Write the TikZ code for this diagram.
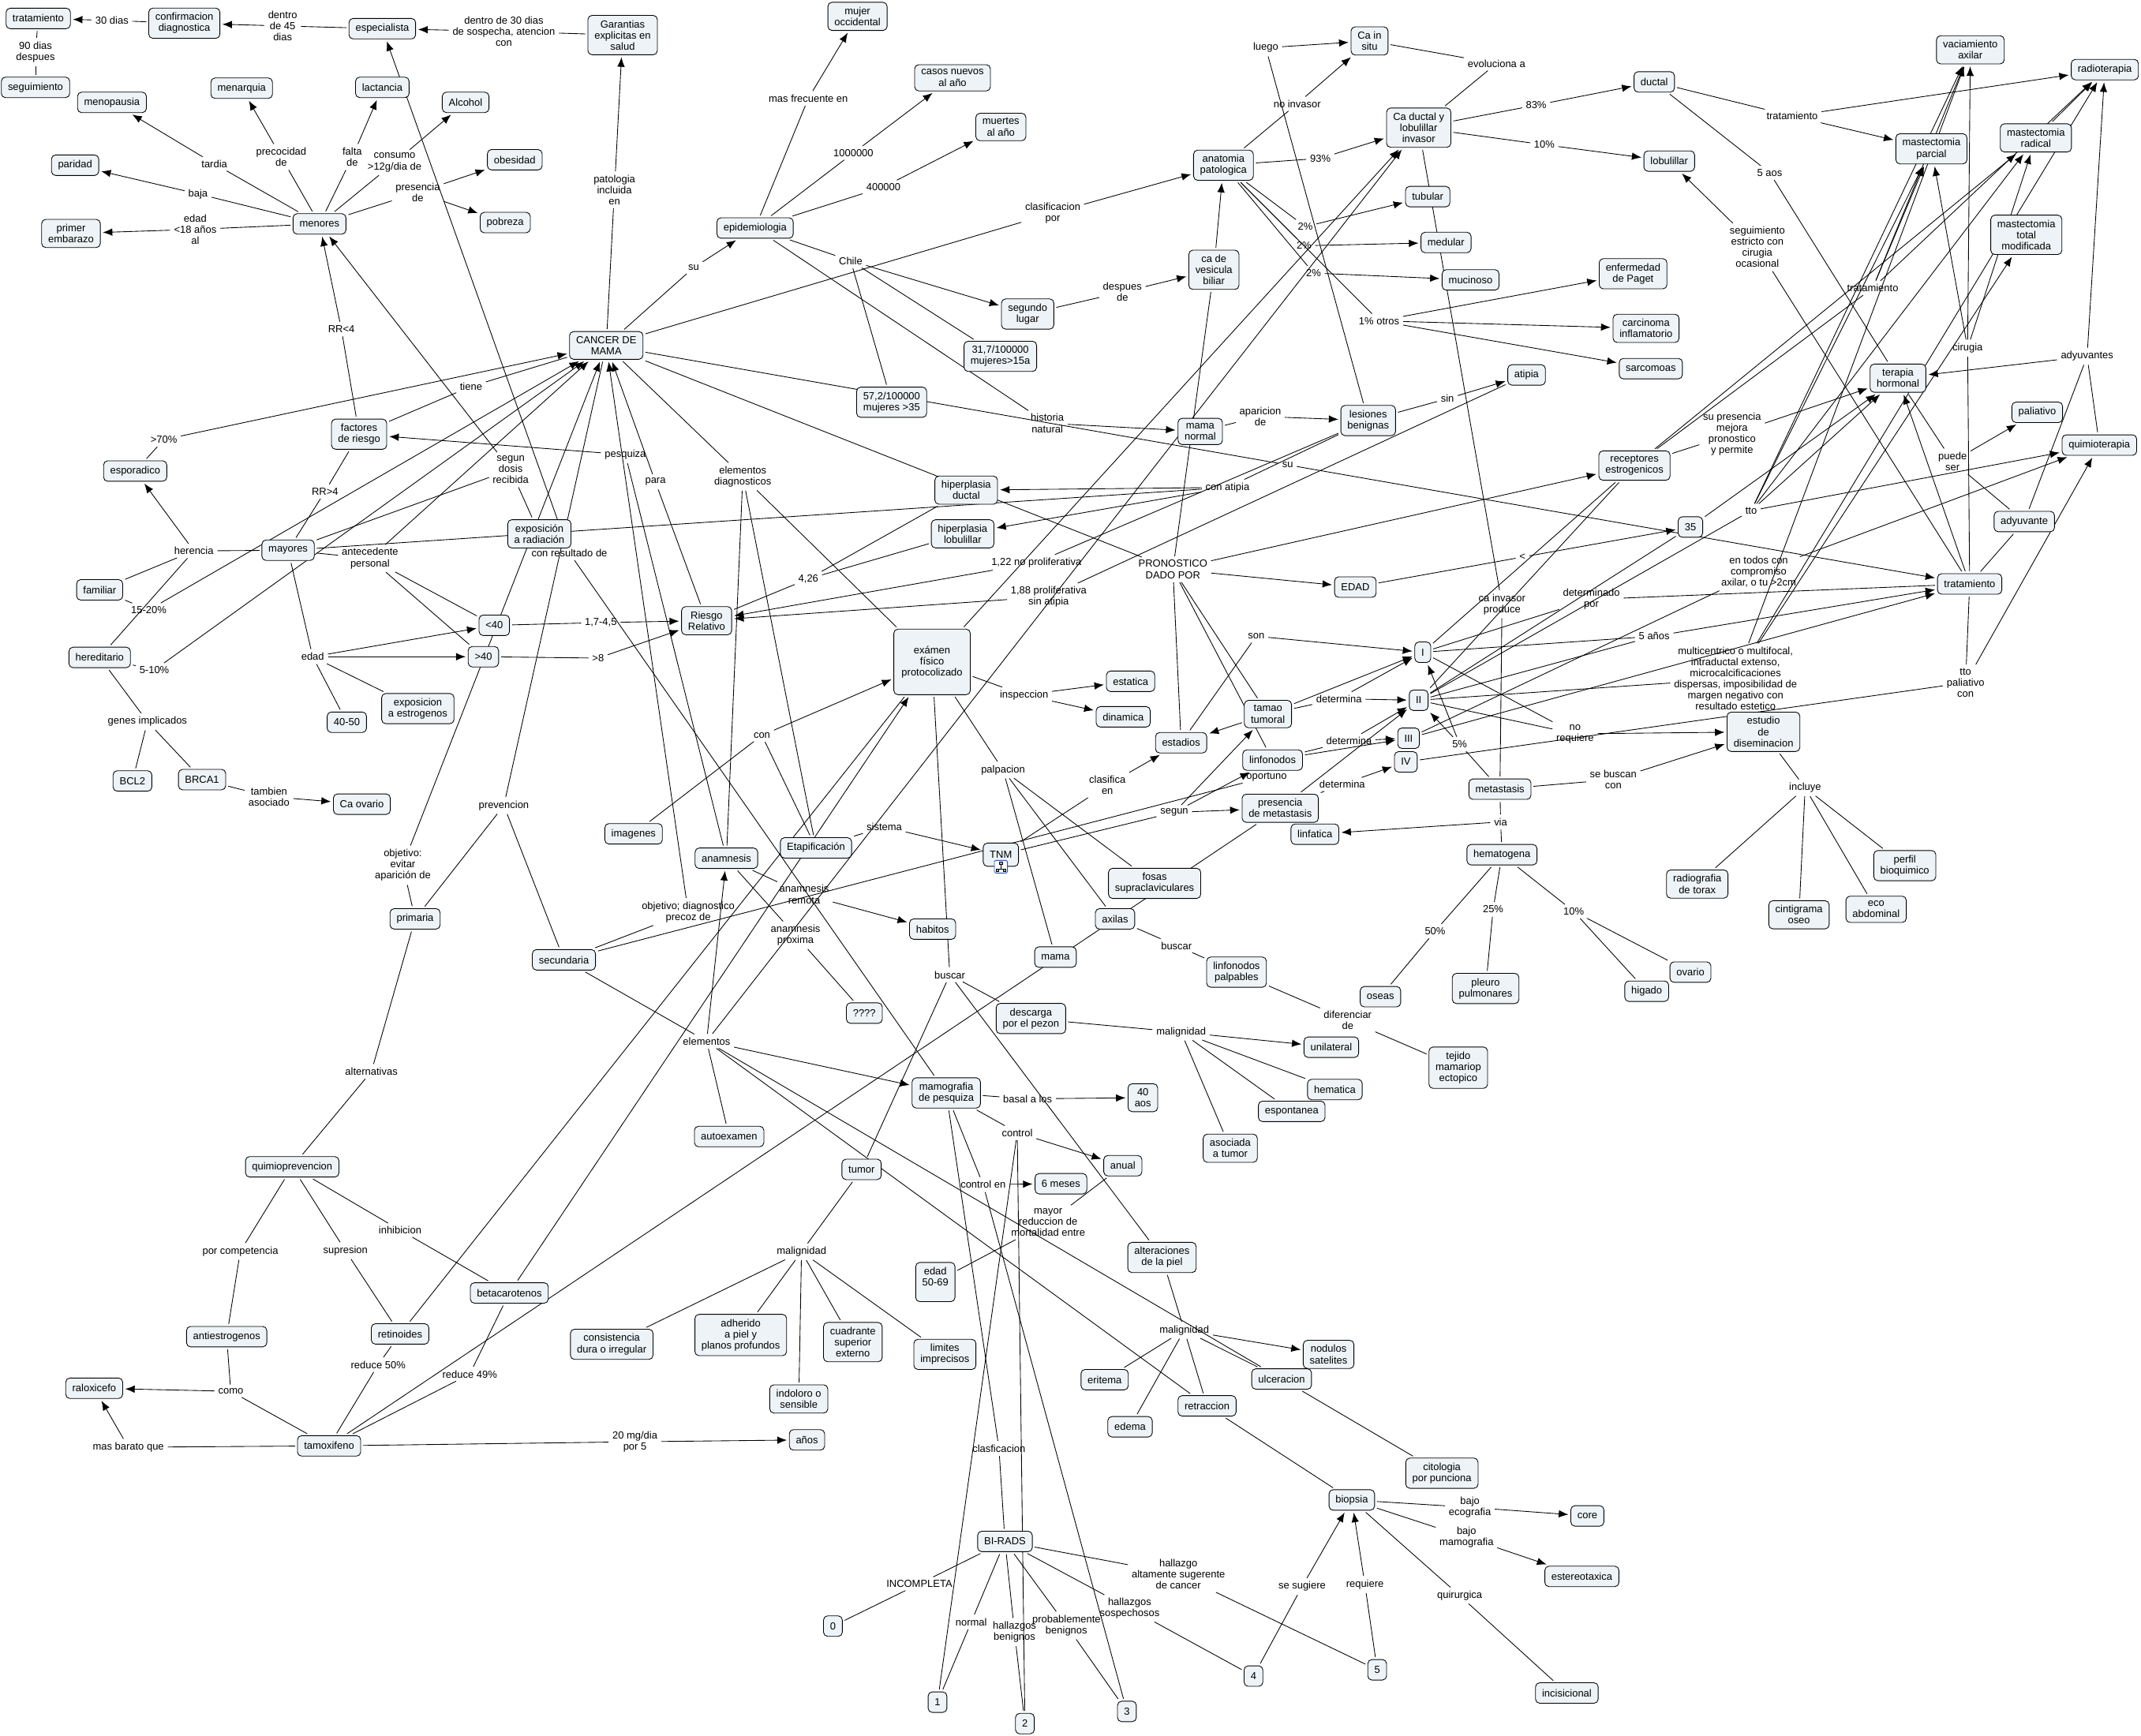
\documentclass[tikz,border=0pt]{standalone}
\usepackage{fontspec}
\setmainfont{Liberation Sans}
\definecolor{conceptfill}{RGB}{237, 243, 246}
\definecolor{iconblue}{RGB}{40, 90, 170}
\usetikzlibrary{arrows.meta, backgrounds}
\tikzset{
  every node/.style={font=\fontsize{7.5}{8.15}\selectfont},
  concept/.style={draw=black, fill=conceptfill, rounded corners=3pt, line width=0.5pt, align=center, inner xsep=4.8pt, inner ysep=3.5pt, minimum height=15pt, outer sep=1pt},
  phrase/.style={align=center, inner sep=1pt, outer sep=1pt},
  joinline/.style={line width=0.5pt, shorten <=0.8pt, shorten >=0.8pt},
  joinarrow/.style={joinline, -{Latex[length=7pt, width=5.5pt]}}
}

\begin{document}
\begin{tikzpicture}[x=1pt, y=-1pt]
  \useasboundingbox (0,0) rectangle (1568,1271);

  % Upper left concepts
  \node[concept] (tratam) at (28,13.5) {tratamiento};
  \node[concept] (confirm) at (135,17) {confirmacion\\diagnostica};
  \node[concept] (especial) at (280,21) {especialista};
  \node[concept] (garantias) at (456,25.7) {Garantias\\explicitas en\\salud};
  \node[concept] (seguim) at (26,64) {seguimiento};
  \node[concept] (menopausia) at (82,75) {menopausia};
  \node[concept] (menarquia) at (177,64.6) {menarquia};
  \node[concept] (lactancia) at (280,64) {lactancia};
  \node[concept] (alcohol) at (341,75) {Alcohol};
  \node[concept] (paridad) at (55,121) {paridad};
  \node[concept] (obesidad) at (377,117) {obesidad};
  \node[concept] (menores) at (234,164) {menores};
  \node[concept] (pobreza) at (370,163) {pobreza};
  \node[concept] (primer) at (52,171) {primer\\embarazo};
  \node[concept] (cancer) at (444,253) {CANCER DE\\MAMA};
  \node[concept] (factores) at (263,318) {factores\\de riesgo};
  \node[concept] (esporadico) at (99,345) {esporadico};
  \node[concept] (exposrad) at (395,391) {exposición\\a radiación};
  \node[concept] (mayores) at (211,403) {mayores};

  % Left column concepts
  \node[concept] (familiar) at (73,432) {familiar};
  \node[concept] (hereditario) at (73,481.5) {hereditario};
  \node[concept] (menos40) at (362,458) {<40};
  \node[concept] (mas40) at (354,481) {>40};
  \node[concept] (riesgo) at (517.5,454.6) {Riesgo\\Relativo};
  \node[concept] (exposestro) at (306,519) {exposicion\\a estrogenos};
  \node[concept] (edad4050) at (254,529) {40-50};
  \node[concept] (bcl2) at (97,572) {BCL2};
  \node[concept] (brca1) at (148,571) {BRCA1};
  \node[concept] (caovario) at (265,589) {Ca ovario};
  \node[concept] (imagenes) at (464,610.7) {imagenes};
  \node[concept] (primaria) at (304,673) {primaria};
  \node[concept] (secundaria) at (413,703) {secundaria};
  \node[concept] (quimioprev) at (214,854.6) {quimioprevencion};
  \node[concept] (antiestro) at (166,979) {antiestrogenos};
  \node[concept] (retinoides) at (293,977) {retinoides};
  \node[concept] (betacar) at (373,947) {betacarotenos};
  \node[concept] (raloxicefo) at (69,1016.8) {raloxicefo};
  \node[concept] (tamoxifeno) at (241,1059) {tamoxifeno};
  \node[concept] (consistencia) at (448,984.6) {consistencia\\dura o irregular};

  % Epidemiology and pathology concepts
  \node[concept] (mujer) at (628,12) {mujer\\occidental};
  \node[concept] (casos) at (697.6,57) {casos nuevos\\al año};
  \node[concept] (muertes) at (733,93) {muertes\\al año};
  \node[concept] (epidem) at (553,167) {epidemiologia};
  \node[concept] (anatomia) at (896,121) {anatomia\\patologica};
  \node[concept] (vesicula) at (889,197.6) {ca de\\vesicula\\biliar};
  \node[concept] (segundo) at (752.6,230) {segundo\\lugar};
  \node[concept] (tasa31) at (732.6,261) {31,7/100000\\mujeres>15a};
  \node[concept] (tasa57) at (653,294.6) {57,2/100000\\mujeres >35};
  \node[concept] (mamanormal) at (879,316) {mama\\normal};
  \node[concept] (lesiones) at (1002,308) {lesiones\\benignas};
  \node[concept] (hipducta) at (707.6,359) {hiperplasia\\ductal};
  \node[concept] (hiplob) at (705,391) {hiperplasia\\lobulillar};
  \node[concept] (cainsitu) at (1003,30) {Ca in\\situ};
  \node[concept] (caductal) at (1039,93.5) {Ca ductal y\\lobulillar\\invasor};
  \node[concept] (ductal) at (1211.5,60) {ductal};
  \node[concept] (lobulillar) at (1222.5,118) {lobulillar};
  \node[concept] (tubular) at (1045.6,144) {tubular};
  \node[concept] (medular) at (1059,177.6) {medular};
  \node[concept] (mucinoso) at (1077,205) {mucinoso};
  \node[concept] (paget) at (1196,200.5) {enfermedad\\de Paget};
  \node[concept] (inflam) at (1205.5,240.5) {carcinoma\\inflamatorio};
  \node[concept] (sarcomas) at (1209,270) {sarcomoas};
  \node[concept] (atipia) at (1118,274.6) {atipia};

  % Treatment concepts
  \node[concept] (vaciam) at (1443,36.5) {vaciamiento\\axilar};
  \node[concept] (radiot) at (1541.5,51) {radioterapia};
  \node[concept] (mparcial) at (1414.5,109) {mastectomia\\parcial};
  \node[concept] (mradical) at (1491,101) {mastectomia\\radical};
  \node[concept] (mtotal) at (1484,172) {mastectomia\\total\\modificada};
  \node[concept] (terapiah) at (1390,277) {terapia\\hormonal};
  \node[concept] (paliativo) at (1492,302) {paliativo};
  \node[concept] (quimiot) at (1537.5,326) {quimioterapia};
  \node[concept] (receptores) at (1197,341) {receptores\\estrogenicos};
  \node[concept] (n35) at (1238,386) {35};
  \node[concept] (adyuvante) at (1482.5,382) {adyuvante};
  \node[concept] (tratder) at (1442.5,427.7) {tratamiento};

  % Staging concepts
  \node[concept] (estI) at (1042,477.7) {I};
  \node[concept] (estII) at (1039,512.9) {II};
  \node[concept] (estIII) at (1031.6,540.7) {III};
  \node[concept] (estIV) at (1029.6,558) {IV};
  \node[concept] (metastasis) at (1098.5,578) {metastasis};
  \node[concept] (hematogena) at (1100,626) {hematogena};
  \node[concept] (estudio) at (1291.5,536) {estudio\\de\\diseminacion};
  \node[concept] (radiografia) at (1243,647.5) {radiografia\\de torax};
  \node[concept] (cintigrama) at (1317.5,670) {cintigrama\\oseo};
  \node[concept] (eco) at (1374,666) {eco\\abdominal};
  \node[concept] (perfil) at (1395,634) {perfil\\bioquimico};
  \node[concept] (pleuro) at (1088,724) {pleuro\\pulmonares};
  \node[concept] (higado) at (1206,726) {higado};
  \node[concept] (ovario) at (1238,712) {ovario};
  \node[concept] (tejido) at (1068,782) {tejido\\mamariop\\ectopico};

  % Examination concepts
  \node[concept, minimum width=56pt, minimum height=48pt] (examen) at (682.6,484.8) {exámen\\físico\\protocolizado};
  \node[concept] (estatica) at (828,499) {estatica};
  \node[concept] (dinamica) at (822.6,525) {dinamica};
  \node[concept] (estadios) at (865,544) {estadios};
  \node[concept] (tamao) at (928.6,523) {tamao\\tumoral};
  \node[concept] (linfonodos) at (932,556.7) {linfonodos};
  \node[concept] (edadn) at (992.6,430) {EDAD};
  \node[concept] (presencia) at (937.6,592) {presencia\\de metastasis};
  \node[concept] (linfatica) at (963,611) {linfatica};
  \node[concept, minimum height=17pt] (tnm) at (733,626) {TNM};
  \node[concept] (etapif) at (597.6,621) {Etapificación};
  \node[concept] (anamnesis) at (532,628.6) {anamnesis};
  \node[concept] (habitos) at (683,680.5) {habitos};
  \node[concept] (fosas) at (845.6,647) {fosas\\supraclaviculares};
  \node[concept] (axilas) at (816.6,673) {axilas};
  \node[concept] (mama) at (773,701) {mama};
  \node[concept] (palpables) at (905.6,712) {linfonodos\\palpables};
  \node[concept] (incognita) at (633,742) {????};
  \node[concept] (descarga) at (755,746) {descarga\\por el pezon};
  \node[concept] (unilateral) at (975,767) {unilateral};
  \node[concept] (hematica) at (977.6,798) {hematica};
  \node[concept] (espontanea) at (946,814) {espontanea};
  \node[concept] (oseas) at (1011,730) {oseas};
  \node[concept] (mamografia) at (693,800.5) {mamografia\\de pesquiza};
  \node[concept] (aos40) at (837,804) {40\\aos};
  \node[concept] (asociada) at (901,841) {asociada\\a tumor};
  \node[concept] (autoexamen) at (534,832.4) {autoexamen};

  % Lower concepts
  \node[concept] (tumor) at (631,856.5) {tumor};
  \node[concept] (anual) at (822.3,853.8) {anual};
  \node[concept] (meses6) at (777,867) {6 meses};
  \node[concept] (alteraciones) at (851,921) {alteraciones\\de la piel};
  \node[concept] (edad5069) at (685,939) {edad\\50-69\\~};
  \node[concept] (adherido) at (542.5,977.8) {adherido\\a piel y\\planos profundos};
  \node[concept] (cuadrante) at (624.6,983) {cuadrante\\superior\\externo};
  \node[concept] (limites) at (692,992) {limites\\imprecisos};
  \node[concept] (indoloro) at (585,1024.6) {indoloro o\\sensible};
  \node[concept] (anos) at (591,1054.6) {años};
  \node[concept] (nodulos) at (973,992) {nodulos\\satelites};
  \node[concept] (ulceracion) at (938.6,1010) {ulceracion};
  \node[concept] (eritema) at (809,1010.5) {eritema};
  \node[concept] (retraccion) at (884,1029.7) {retraccion};
  \node[concept] (edema) at (827.6,1045) {edema};
  \node[concept] (citologia) at (1056,1079) {citologia\\por punciona};
  \node[concept] (biopsia) at (990,1098.6) {biopsia};
  \node[concept] (birads) at (736,1129) {BI-RADS};
  \node[concept] (bi0) at (610,1191) {0};
  \node[concept] (bi1) at (686.6,1246.7) {1};
  \node[concept] (bi2) at (750.6,1262.4) {2};
  \node[concept] (bi3) at (825.3,1253.5) {3};
  \node[concept] (bi4) at (918,1227.6) {4};
  \node[concept] (bi5) at (1008.6,1223) {5};
  \node[concept] (core) at (1162.5,1110.3) {core};
  \node[concept] (estereo) at (1158.5,1154.6) {estereotaxica};
  \node[concept] (incisional) at (1147.5,1240) {incisicional};

  % Linking phrases, upper left
  \node[phrase] (l30dias) at (82,15) {30 dias};
  \node[phrase] (l90dias) at (26,38) {90 dias\\despues};
  \node[phrase] (l45dias) at (207,19) {dentro\\de 45\\dias};
  \node[phrase] (l30sosp) at (369,23) {dentro de 30 dias\\de sospecha, atencion\\con};
  \node[phrase] (ltardia) at (157,120) {tardia};
  \node[phrase] (lprecoc) at (206,115) {precocidad\\de};
  \node[phrase] (lfalta) at (258,115) {falta\\de};
  \node[phrase] (lconsumo) at (289,119) {consumo\\>12g/dia de};
  \node[phrase] (lpresen) at (306,141) {presencia\\de};
  \node[phrase] (lbaja) at (145,142) {baja};
  \node[phrase] (ledad18) at (143,168) {edad\\<18 años\\al};
  \node[phrase] (lpatol) at (450,139) {patologia\\incluida\\en};
  \node[phrase] (lsu) at (508,196) {su};
  \node[phrase] (lrrmen) at (250,241) {RR<4};
  \node[phrase] (ltiene) at (345,283) {tiene};
  \node[phrase] (l70) at (120,322) {>70\%};
  \node[phrase] (lpesq) at (458,333) {pesquiza};
  \node[phrase] (ldosis) at (374,344) {segun\\dosis\\recibida};
  \node[phrase] (lpara) at (480,353) {para};
  \node[phrase] (lrrmay) at (238,360) {RR>4};
  \node[phrase] (lherencia) at (142,403.5) {herencia};
  \node[phrase] (lantec) at (271,409) {antecedente\\personal};
  \node[phrase] (lresult) at (417,405) {con resultado de};

  % Linking phrases, left column
  \node[phrase] (l1520) at (109,446.7) {15-20\%};
  \node[phrase] (l510) at (113,490.7) {5-10\%};
  \node[phrase] (ledad) at (229,481) {edad};
  \node[phrase] (l1745) at (440,456) {1,7-4,5};
  \node[phrase] (lmas8) at (438,482) {>8};
  \node[phrase] (lgenes) at (108,528.6) {genes implicados};
  \node[phrase] (ltambien) at (197,583.4) {tambien\\asociado};
  \node[phrase] (lprevenc) at (369,590) {prevencion};
  \node[phrase] (lobjevit) at (295,633.7) {objetivo:\\evitar\\aparición de};
  \node[phrase] (lalterna) at (272,784.8) {alternativas};
  \node[phrase] (lcompet) at (176,916.5) {por competencia};
  \node[phrase] (lsupres) at (253,916) {supresion};
  \node[phrase] (linhib) at (293,901) {inhibicion};
  \node[phrase] (lred50) at (277,999.5) {reduce 50\%};
  \node[phrase] (lred49) at (344,1006.5) {reduce 49\%};
  \node[phrase] (lcomo) at (169,1019) {como};
  \node[phrase] (lbarato) at (94,1060) {mas barato que};
  \node[phrase] (l20mg) at (465,1056) {20 mg/dia\\por 5};

  % Linking phrases, top middle
  \node[phrase] (lfrec) at (592,72) {mas frecuente en};
  \node[phrase] (lmillon) at (625,112) {1000000};
  \node[phrase] (l400) at (647,137) {400000};
  \node[phrase] (lclasif) at (771,156) {clasificacion\\por};
  \node[phrase] (lchile) at (623,191) {Chile};
  \node[phrase] (ldespues) at (822,214) {despues\\de};
  \node[phrase] (lluego) at (927,35) {luego};
  \node[phrase] (lnoinv) at (950,76) {no invasor};
  \node[phrase] (l93) at (967,116) {93\%};
  \node[phrase] (l2a) at (956,166) {2\%};
  \node[phrase] (l2b) at (955,180) {2\%};
  \node[phrase] (l2c) at (962,200) {2\%};
  \node[phrase] (lotros) at (1010,235) {1\% otros};
  \node[phrase] (lhistoria) at (767,310) {historia\\natural};
  \node[phrase] (laparic) at (923,305) {aparicion\\de};
  \node[phrase] (lsub) at (943,340.5) {su};
  \node[phrase] (latipia) at (899,357) {con atipia};
  \node[phrase] (lelemdiag) at (544,349) {elementos\\diagnosticos};
  \node[phrase] (l122) at (759,412) {1,22 no proliferativa};
  \node[phrase] (lpronos) at (859,417) {PRONOSTICO\\DADO POR};
  \node[phrase] (l426) at (592,424) {4,26};
  \node[phrase] (lsin) at (1060,292) {sin};

  % Linking phrases, right side
  \node[phrase] (levol) at (1096,46.5) {evoluciona a};
  \node[phrase] (l83) at (1125,77) {83\%};
  \node[phrase] (l10a) at (1131,106) {10\%};
  \node[phrase] (ltratsup) at (1312.5,85) {tratamiento};
  \node[phrase] (l5aos) at (1296,126.5) {5 aos};
  \node[phrase] (lseguim) at (1287,181) {seguimiento\\estricto con\\cirugia\\ocasional};
  \node[phrase] (ltratmed) at (1371.5,211) {tratamiento};
  \node[phrase] (lcirugia) at (1441,255) {cirugia};
  \node[phrase] (ladyuv) at (1528.5,261) {adyuvantes};
  \node[phrase] (lsupres2) at (1268.5,318) {su presencia\\mejora\\pronostico\\y permite};
  \node[phrase] (lpuede) at (1430,338) {puede\\ser};
  \node[phrase] (ltto) at (1282.5,374) {tto};
  \node[phrase] (lmenor) at (1115,408) {<};
  \node[phrase] (ltodos) at (1288,419) {en todos con\\compromiso\\axilar, o tu >2cm};
  \node[phrase] (lcainv) at (1100,442.6) {ca invasor\\produce};
  \node[phrase] (ldeterm) at (1165.5,439) {determinado\\por};
  \node[phrase] (l5anos) at (1211.5,466) {5 años};
  \node[phrase] (lmulti) at (1271,497) {multicentrico o multifocal,\\intraductal extenso,\\microcalcificaciones\\dispersas, imposibilidad de\\margen negativo con\\resultado estetico};
  \node[phrase] (ltpal) at (1439.5,500) {tto\\paliativo\\con};
  \node[phrase] (lnoreq) at (1153.5,537.5) {no\\requiere};
  \node[phrase] (l5pc) at (1069,545) {5\%};
  \node[phrase] (lbuscan) at (1181.5,571) {se buscan\\con};
  \node[phrase] (lvia) at (1099,602) {via};
  \node[phrase] (lincluye) at (1322,577) {incluye};
  \node[phrase] (l25) at (1093.5,666) {25\%};
  \node[phrase] (l10b) at (1152.5,667.5) {10\%};
  \node[phrase] (l50) at (1051,682) {50\%};

  % Linking phrases, centre
  \node[phrase] (linspec) at (750,509) {inspeccion};
  \node[phrase] (lpalpa) at (734.6,564) {palpacion};
  \node[phrase] (lcon) at (558,538.6) {con};
  \node[phrase] (lson) at (920,466) {son};
  \node[phrase] (ldeta) at (980.6,511.8) {determina};
  \node[phrase] (ldetb) at (988,542.6) {determina};
  \node[phrase] (ldetc) at (983,574.5) {determina};
  \node[phrase] (lclasen) at (811,575) {clasifica\\en};
  \node[phrase] (loport) at (927.6,569) {oportuno};
  \node[phrase] (lsegun) at (860,595) {segun};
  \node[phrase] (lsistema) at (647.6,605.6) {sistema};
  \node[phrase] (lremota) at (589,655) {anamnesis\\remota};
  \node[phrase] (lproxima) at (582.6,685) {anamnesis\\proxima};
  \node[phrase] (lobjdiag) at (504,668) {objetivo; diagnostico\\precoz de};
  \node[phrase] (l188) at (768,437) {1,88 proliferativa\\sin atipia};
  \node[phrase] (lbuscara) at (695.6,714) {buscar};
  \node[phrase] (lbuscarb) at (861.6,692.6) {buscar};
  \node[phrase] (ldifer) at (987,747) {diferenciar\\de};
  \node[phrase] (lmaliga) at (865,756) {malignidad};
  \node[phrase] (lelem) at (517.5,762.6) {elementos};
  \node[phrase] (lbasal) at (752.6,804.8) {basal a los};
  \node[phrase] (lcontrol) at (745,829.6) {control};

  % Linking phrases, bottom
  \node[phrase] (lmaligb) at (587,916.8) {malignidad};
  \node[phrase] (lconten) at (720,867.6) {control en};
  \node[phrase] (lmayor) at (767.6,895.4) {mayor\\reduccion de\\mortalidad entre};
  \node[phrase] (lmaligc) at (867.3,974.3) {malignidad};
  \node[phrase] (lclasfi) at (731.6,1060.8) {clasficacion};
  \node[phrase] (lincomp) at (673.3,1160) {INCOMPLETA};
  \node[phrase] (lnormal) at (711.3,1188) {normal};
  \node[phrase] (lbenig) at (743,1195.4) {hallazgos\\benignos};
  \node[phrase] (lprobab) at (781,1190.5) {probablemente\\benignos};
  \node[phrase] (lsospe) at (827.3,1178) {hallazgos\\sospechosos};
  \node[phrase] (laltam) at (863,1153) {hallazgo\\altamente sugerente\\de cancer};
  \node[phrase] (lsugier) at (953.6,1162) {se sugiere};
  \node[phrase] (lrequier) at (999.6,1160.5) {requiere};
  \node[phrase] (lbajoeco) at (1076.5,1104) {bajo\\ecografia};
  \node[phrase] (lbajomam) at (1074,1126) {bajo\\mamografia};
  \node[phrase] (lquirur) at (1069,1168.6) {quirurgica};

  % TNM icon
  \draw[iconblue, fill=white, rounded corners=1pt, line width=0.5pt] (728.2,630.2) rectangle (737.8,639.4);
  \draw[black, line width=0.3pt] (733,632) -- (733,636.5) (730.5,636.5) -- (735.5,636.5);
  \filldraw[fill=iconblue!50, draw=black, line width=0.2pt] (732,631) rectangle (734,632.8) (729.6,636.4) rectangle (731.4,638.2) (734.6,636.4) rectangle (736.4,638.2);

  \begin{scope}[on background layer]
    % Top row
    \draw[joinline] (confirm) -- (l30dias);
    \draw[joinarrow] (l30dias) -- (tratam);
    \draw[joinline] (tratam) -- (l90dias);
    \draw[joinline] (l90dias) -- (seguim);
    \draw[joinline] (especial) -- (l45dias);
    \draw[joinarrow] (l45dias) -- (confirm);
    \draw[joinline] (garantias) -- (l30sosp);
    \draw[joinarrow] (l30sosp) -- (especial);
    \draw[joinline] (cancer) -- (lpatol);
    \draw[joinarrow] (lpatol) -- (garantias);
    \draw[joinarrow] (lresult) -- (especial);
    \draw[joinline] (mamografia) -- (lresult);

    % Risk factors
    \draw[joinline] (menores) -- (ltardia);
    \draw[joinarrow] (ltardia) -- (menopausia);
    \draw[joinline] (menores) -- (lprecoc);
    \draw[joinarrow] (lprecoc) -- (menarquia);
    \draw[joinline] (menores) -- (lfalta);
    \draw[joinarrow] (lfalta) -- (lactancia);
    \draw[joinline] (menores) -- (lconsumo);
    \draw[joinarrow] (lconsumo) -- (alcohol);
    \draw[joinline] (menores) -- (lpresen);
    \draw[joinarrow] (lpresen) -- (obesidad);
    \draw[joinarrow] (lpresen) -- (pobreza);
    \draw[joinline] (menores) -- (lbaja);
    \draw[joinarrow] (lbaja) -- (paridad);
    \draw[joinline] (menores) -- (ledad18);
    \draw[joinarrow] (ledad18) -- (primer);
    \draw[joinline] (factores) -- (lrrmen);
    \draw[joinarrow] (lrrmen) -- (menores);
    \draw[joinline] (factores) -- (lrrmay);
    \draw[joinline] (lrrmay) -- (mayores);
    \draw[joinline] (cancer) -- (ltiene);
    \draw[joinline] (ltiene) -- (factores);
    \draw[joinline] (esporadico) -- (l70);
    \draw[joinarrow] (l70) -- (cancer);
    \draw[joinline] (anamnesis) -- (lpesq);
    \draw[joinarrow] (lpesq) -- (factores);
    \draw[joinline] (exposrad) -- (ldosis);
    \draw[joinline] (mayores) -- (ldosis);
    \draw[joinarrow] (ldosis) -- (menores);
    \draw[joinline] (riesgo) -- (lpara);
    \draw[joinarrow] (lpara) -- (cancer);
    \draw[joinline] (mayores) -- (lherencia);
    \draw[joinarrow] (lherencia) -- (esporadico);
    \draw[joinline] (lherencia) -- (familiar);
    \draw[joinline] (lherencia) -- (hereditario);
    \draw[joinline] (familiar) -- (l1520);
    \draw[joinarrow] (l1520) -- (cancer);
    \draw[joinline] (hereditario) -- (l510);
    \draw[joinarrow] (l510) -- (cancer);
    \draw[joinline] (mayores) -- (lantec);
    \draw[joinarrow] (lantec) -- (cancer);
    \draw[joinline] (lantec) -- (menos40);
    \draw[joinline] (lantec) -- (mas40);
    \draw[joinline] (mayores) -- (ledad);
    \draw[joinarrow] (ledad) -- (menos40);
    \draw[joinarrow] (ledad) -- (mas40);
    \draw[joinline] (ledad) -- (exposestro);
    \draw[joinline] (ledad) -- (edad4050);
    \draw[joinline] (menos40) -- (l1745);
    \draw[joinarrow] (l1745) -- (riesgo);
    \draw[joinline] (mas40) -- (lmas8);
    \draw[joinarrow] (lmas8) -- (riesgo);
    \draw[joinline] (hereditario) -- (lgenes);
    \draw[joinline] (lgenes) -- (bcl2);
    \draw[joinline] (lgenes) -- (brca1);
    \draw[joinline] (brca1) -- (ltambien);
    \draw[joinarrow] (ltambien) -- (caovario);

    % Prevention
    \draw[joinline] (cancer) -- (lprevenc);
    \draw[joinline] (lprevenc) -- (primaria);
    \draw[joinline] (lprevenc) -- (secundaria);
    \draw[joinline] (primaria) -- (lobjevit);
    \draw[joinarrow] (lobjevit) -- (cancer);
    \draw[joinline] (primaria) -- (lalterna);
    \draw[joinline] (lalterna) -- (quimioprev);
    \draw[joinline] (secundaria) -- (lobjdiag);
    \draw[joinarrow] (lobjdiag) -- (cancer);
    \draw[joinline] (secundaria) -- (loport);
    \draw[joinline] (secundaria) -- (lelem);
    \draw[joinarrow] (lelem) -- (caductal);
    \draw[joinarrow] (lelem) -- (mamografia);
    \draw[joinline] (lelem) -- (autoexamen);
    \draw[joinarrow] (lelem) -- (anamnesis);
    \draw[joinline] (lelem) -- (ulceracion);
    \draw[joinline] (lelem) -- (retraccion);
    \draw[joinline] (quimioprev) -- (lcompet);
    \draw[joinline] (lcompet) -- (antiestro);
    \draw[joinline] (quimioprev) -- (lsupres);
    \draw[joinline] (lsupres) -- (retinoides);
    \draw[joinline] (quimioprev) -- (linhib);
    \draw[joinline] (linhib) -- (betacar);
    \draw[joinline] (retinoides) -- (lred50);
    \draw[joinline] (lred50) -- (tamoxifeno);
    \draw[joinline] (betacar) -- (lred49);
    \draw[joinline] (lred49) -- (tamoxifeno);
    \draw[joinline] (antiestro) -- (lcomo);
    \draw[joinarrow] (lcomo) -- (raloxicefo);
    \draw[joinline] (lcomo) -- (tamoxifeno);
    \draw[joinline] (tamoxifeno) -- (lbarato);
    \draw[joinarrow] (lbarato) -- (raloxicefo);
    \draw[joinline] (tamoxifeno) -- (l20mg);
    \draw[joinarrow] (l20mg) -- (anos);
    \draw[joinline] (tamoxifeno) -- (presencia);
    \draw[joinline] (retinoides) -- (examen);
    \draw[joinarrow] (betacar) -- (examen);

    % Epidemiology
    \draw[joinline] (cancer) -- (lsu);
    \draw[joinarrow] (lsu) -- (epidem);
    \draw[joinline] (epidem) -- (lfrec);
    \draw[joinarrow] (lfrec) -- (mujer);
    \draw[joinline] (epidem) -- (lmillon);
    \draw[joinarrow] (lmillon) -- (casos);
    \draw[joinline] (epidem) -- (l400);
    \draw[joinarrow] (l400) -- (muertes);
    \draw[joinline] (epidem) -- (lchile);
    \draw[joinarrow] (lchile) -- (segundo);
    \draw[joinline] (lchile) -- (tasa31);
    \draw[joinline] (lchile) -- (tasa57);
    \draw[joinline] (segundo) -- (ldespues);
    \draw[joinarrow] (ldespues) -- (vesicula);
    \draw[joinarrow] (vesicula) -- (anatomia);
    \draw[joinline] (vesicula) -- (lpronos);
    \draw[joinline] (epidem) -- (lhistoria);
    \draw[joinarrow] (lhistoria) -- (mamanormal);
    \draw[joinline] (mamanormal) -- (laparic);
    \draw[joinarrow] (laparic) -- (lesiones);

    % Pathology
    \draw[joinline] (cancer) -- (lclasif);
    \draw[joinarrow] (lclasif) -- (anatomia);
    \draw[joinline] (anatomia) -- (lnoinv);
    \draw[joinarrow] (lnoinv) -- (cainsitu);
    \draw[joinline] (lesiones) -- (lluego);
    \draw[joinarrow] (lluego) -- (cainsitu);
    \draw[joinline] (cainsitu) -- (levol);
    \draw[joinline] (levol) -- (caductal);
    \draw[joinline] (anatomia) -- (l93);
    \draw[joinarrow] (l93) -- (caductal);
    \draw[joinline] (anatomia) -- (l2a);
    \draw[joinarrow] (l2a) -- (tubular);
    \draw[joinline] (anatomia) -- (l2b);
    \draw[joinarrow] (l2b) -- (medular);
    \draw[joinline] (anatomia) -- (l2c);
    \draw[joinarrow] (l2c) -- (mucinoso);
    \draw[joinline] (anatomia) -- (lotros);
    \draw[joinarrow] (lotros) -- (paget);
    \draw[joinarrow] (lotros) -- (inflam);
    \draw[joinarrow] (lotros) -- (sarcomas);
    \draw[joinline] (caductal) -- (l83);
    \draw[joinarrow] (l83) -- (ductal);
    \draw[joinline] (caductal) -- (l10a);
    \draw[joinarrow] (l10a) -- (lobulillar);
    \draw[joinline] (caductal) -- (lcainv);
    \draw[joinline] (lcainv) -- (metastasis);
    \draw[joinarrow] (examen) -- (caductal);
    \draw[joinline] (lesiones) -- (lsin);
    \draw[joinarrow] (lsin) -- (atipia);
    \draw[joinline] (lesiones) -- (latipia);
    \draw[joinline] (mayores) -- (latipia);
    \draw[joinarrow] (latipia) -- (hipducta);
    \draw[joinarrow] (latipia) -- (hiplob);
    \draw[joinline] (hipducta) -- (l426);
    \draw[joinline] (hiplob) -- (l426);
    \draw[joinline] (l426) -- (riesgo);
    \draw[joinline] (lesiones) -- (l122);
    \draw[joinarrow] (l122) -- (riesgo);
    \draw[joinline] (atipia) -- (l188);
    \draw[joinarrow] (l188) -- (riesgo);

    % Diagnostic elements
    \draw[joinline] (cancer) -- (lelemdiag);
    \draw[joinline] (lelemdiag) -- (anamnesis);
    \draw[joinline] (lelemdiag) -- (etapif);
    \draw[joinline] (lelemdiag) -- (examen);
    \draw[joinline] (imagenes) -- (lcon);
    \draw[joinline] (lcon) -- (etapif);
    \draw[joinarrow] (lcon) -- (examen);
    \draw[joinline] (etapif) -- (lsistema);
    \draw[joinarrow] (lsistema) -- (tnm);
    \draw[joinline] (anamnesis) -- (lremota);
    \draw[joinarrow] (lremota) -- (habitos);
    \draw[joinline] (anamnesis) -- (lproxima);
    \draw[joinline] (lproxima) -- (incognita);
    \draw[joinline] (examen) -- (linspec);
    \draw[joinarrow] (linspec) -- (estatica);
    \draw[joinarrow] (linspec) -- (dinamica);
    \draw[joinline] (examen) -- (lpalpa);
    \draw[joinline] (lpalpa) -- (mama);
    \draw[joinline] (lpalpa) -- (axilas);
    \draw[joinline] (lpalpa) -- (fosas);
    \draw[joinline] (examen) -- (lbuscara);
    \draw[joinline] (lbuscara) -- (descarga);
    \draw[joinline] (lbuscara) -- (alteraciones);
    \draw[joinline] (lbuscara) -- (tumor);
    \draw[joinline] (axilas) -- (lbuscarb);
    \draw[joinline] (lbuscarb) -- (palpables);
    \draw[joinline] (palpables) -- (ldifer);
    \draw[joinline] (ldifer) -- (tejido);
    \draw[joinline] (descarga) -- (lmaliga);
    \draw[joinarrow] (lmaliga) -- (unilateral);
    \draw[joinline] (lmaliga) -- (hematica);
    \draw[joinline] (lmaliga) -- (espontanea);
    \draw[joinline] (lmaliga) -- (asociada);

    % Prognosis and staging
    \draw[joinline] (cancer) -- (lpronos);
    \draw[joinarrow] (lpronos) -- (receptores);
    \draw[joinarrow] (lpronos) -- (edadn);
    \draw[joinline] (lpronos) -- (estadios);
    \draw[joinline] (lpronos) -- (tamao);
    \draw[joinline] (lpronos) -- (linfonodos);
    \draw[joinline] (edadn) -- (lmenor);
    \draw[joinarrow] (lmenor) -- (n35);
    \draw[joinline] (estadios) -- (lson);
    \draw[joinarrow] (lson) -- (estI);
    \draw[joinarrow] (tamao) -- (estadios);
    \draw[joinarrow] (tamao) -- (estI);
    \draw[joinline] (tamao) -- (ldeta);
    \draw[joinarrow] (ldeta) -- (estI);
    \draw[joinarrow] (ldeta) -- (estII);
    \draw[joinline] (linfonodos) -- (ldetb);
    \draw[joinarrow] (ldetb) -- (estII);
    \draw[joinarrow] (ldetb) -- (estIII);
    \draw[joinarrow] (linfonodos) -- (estIII);
    \draw[joinline] (presencia) -- (ldetc);
    \draw[joinarrow] (ldetc) -- (estIV);
    \draw[joinarrow] (presencia) -- (estII);
    \draw[joinline] (tnm) -- (lclasen);
    \draw[joinarrow] (lclasen) -- (estadios);
    \draw[joinline] (tnm) -- (lsegun);
    \draw[joinarrow] (lsegun) -- (tamao);
    \draw[joinarrow] (lsegun) -- (linfonodos);
    \draw[joinarrow] (lsegun) -- (presencia);
    \draw[joinline] (metastasis) -- (l5pc);
    \draw[joinarrow] (l5pc) -- (estI);
    \draw[joinarrow] (l5pc) -- (estII);
    \draw[joinline] (metastasis) -- (lbuscan);
    \draw[joinarrow] (lbuscan) -- (estudio);
    \draw[joinline] (metastasis) -- (lvia);
    \draw[joinline] (lvia) -- (hematogena);
    \draw[joinarrow] (lvia) -- (linfatica);
    \draw[joinline] (hematogena) -- (l50);
    \draw[joinline] (l50) -- (oseas);
    \draw[joinline] (hematogena) -- (l25);
    \draw[joinline] (l25) -- (pleuro);
    \draw[joinline] (hematogena) -- (l10b);
    \draw[joinline] (l10b) -- (higado);
    \draw[joinline] (l10b) -- (ovario);
    \draw[joinline] (estudio) -- (lincluye);
    \draw[joinline] (lincluye) -- (radiografia);
    \draw[joinline] (lincluye) -- (cintigrama);
    \draw[joinline] (lincluye) -- (eco);
    \draw[joinline] (lincluye) -- (perfil);

    % Treatment
    \draw[joinline] (cancer) -- (lsub);
    \draw[joinarrow] (lsub) -- (tratder);
    \draw[joinline] (ductal) -- (ltratsup);
    \draw[joinarrow] (ltratsup) -- (radiot);
    \draw[joinarrow] (ltratsup) -- (mparcial);
    \draw[joinline] (ductal) -- (l5aos);
    \draw[joinline] (l5aos) -- (terapiah);
    \draw[joinline] (tratder) -- (lseguim);
    \draw[joinarrow] (lseguim) -- (lobulillar);
    \draw[joinline] (receptores) -- (ltratmed);
    \draw[joinarrow] (ltratmed) -- (vaciam);
    \draw[joinarrow] (ltratmed) -- (mparcial);
    \draw[joinarrow] (ltratmed) -- (radiot);
    \draw[joinarrow] (receptores) -- (mradical);
    \draw[joinline] (receptores) -- (lsupres2);
    \draw[joinarrow] (lsupres2) -- (terapiah);
    \draw[joinline] (estI) -- (receptores);
    \draw[joinline] (estII) -- (receptores);
    \draw[joinline] (estII) -- (n35);
    \draw[joinarrow] (n35) -- (terapiah);
    \draw[joinline] (estII) -- (ltto);
    \draw[joinarrow] (ltto) -- (vaciam);
    \draw[joinarrow] (ltto) -- (mparcial);
    \draw[joinarrow] (ltto) -- (mradical);
    \draw[joinarrow] (ltto) -- (terapiah);
    \draw[joinarrow] (ltto) -- (quimiot);
    \draw[joinline] (estIII) -- (ltodos);
    \draw[joinarrow] (ltodos) -- (quimiot);
    \draw[joinarrow] (estIII) -- (tratder);
    \draw[joinline] (estI) -- (ldeterm);
    \draw[joinline] (ldeterm) -- (tratder);
    \draw[joinline] (estI) -- (l5anos);
    \draw[joinline] (estII) -- (l5anos);
    \draw[joinarrow] (l5anos) -- (tratder);
    \draw[joinline] (estI) -- (lnoreq);
    \draw[joinline] (estII) -- (lnoreq);
    \draw[joinarrow] (lnoreq) -- (estudio);
    \draw[joinline] (estII) -- (lmulti);
    \draw[joinarrow] (lmulti) -- (vaciam);
    \draw[joinarrow] (lmulti) -- (mtotal);
    \draw[joinarrow] (lmulti) -- (radiot);
    \draw[joinline] (estIV) -- (ltpal);
    \draw[joinline] (tratder) -- (ltpal);
    \draw[joinarrow] (ltpal) -- (quimiot);
    \draw[joinarrow] (tratder) -- (terapiah);
    \draw[joinline] (tratder) -- (lcirugia);
    \draw[joinarrow] (lcirugia) -- (vaciam);
    \draw[joinarrow] (lcirugia) -- (mparcial);
    \draw[joinarrow] (lcirugia) -- (mradical);
    \draw[joinline] (tratder) -- (adyuvante);
    \draw[joinline] (terapiah) -- (lpuede);
    \draw[joinarrow] (lpuede) -- (paliativo);
    \draw[joinline] (lpuede) -- (adyuvante);
    \draw[joinline] (adyuvante) -- (ladyuv);
    \draw[joinline] (quimiot) -- (ladyuv);
    \draw[joinarrow] (ladyuv) -- (terapiah);
    \draw[joinarrow] (ladyuv) -- (radiot);
    \draw[joinarrow] (mradical) -- (radiot);

    % Screening
    \draw[joinline] (mamografia) -- (lbasal);
    \draw[joinarrow] (lbasal) -- (aos40);
    \draw[joinline] (mamografia) -- (lcontrol);
    \draw[joinarrow] (lcontrol) -- (anual);
    \draw[joinline] (lcontrol) -- (bi1);
    \draw[joinline] (lcontrol) -- (bi2);
    \draw[joinline] (mamografia) -- (lconten);
    \draw[joinarrow] (lconten) -- (meses6);
    \draw[joinline] (lconten) -- (bi3);
    \draw[joinline] (mamografia) -- (lclasfi);
    \draw[joinline] (lclasfi) -- (birads);
    \draw[joinline] (anual) -- (lmayor);
    \draw[joinline] (lmayor) -- (edad5069);
    \draw[joinline] (birads) -- (lincomp);
    \draw[joinline] (lincomp) -- (bi0);
    \draw[joinline] (birads) -- (lnormal);
    \draw[joinline] (lnormal) -- (bi1);
    \draw[joinline] (birads) -- (lbenig);
    \draw[joinline] (lbenig) -- (bi2);
    \draw[joinline] (birads) -- (lprobab);
    \draw[joinline] (lprobab) -- (bi3);
    \draw[joinline] (birads) -- (lsospe);
    \draw[joinline] (lsospe) -- (bi4);
    \draw[joinline] (birads) -- (laltam);
    \draw[joinline] (laltam) -- (bi5);
    \draw[joinline] (bi4) -- (lsugier);
    \draw[joinarrow] (lsugier) -- (biopsia);
    \draw[joinline] (bi5) -- (lrequier);
    \draw[joinarrow] (lrequier) -- (biopsia);

    % Clinical signs
    \draw[joinline] (tumor) -- (lmaligb);
    \draw[joinline] (lmaligb) -- (consistencia);
    \draw[joinline] (lmaligb) -- (adherido);
    \draw[joinline] (lmaligb) -- (indoloro);
    \draw[joinline] (lmaligb) -- (cuadrante);
    \draw[joinline] (lmaligb) -- (limites);
    \draw[joinline] (alteraciones) -- (lmaligc);
    \draw[joinline] (lmaligc) -- (eritema);
    \draw[joinline] (lmaligc) -- (edema);
    \draw[joinline] (lmaligc) -- (retraccion);
    \draw[joinline] (lmaligc) -- (ulceracion);
    \draw[joinarrow] (lmaligc) -- (nodulos);
    \draw[joinline] (ulceracion) -- (citologia);
    \draw[joinline] (retraccion) -- (biopsia);
    \draw[joinline] (biopsia) -- (lbajoeco);
    \draw[joinarrow] (lbajoeco) -- (core);
    \draw[joinline] (biopsia) -- (lbajomam);
    \draw[joinarrow] (lbajomam) -- (estereo);
    \draw[joinline] (biopsia) -- (lquirur);
    \draw[joinline] (lquirur) -- (incisional);
  \end{scope}
\end{tikzpicture}
\end{document}
